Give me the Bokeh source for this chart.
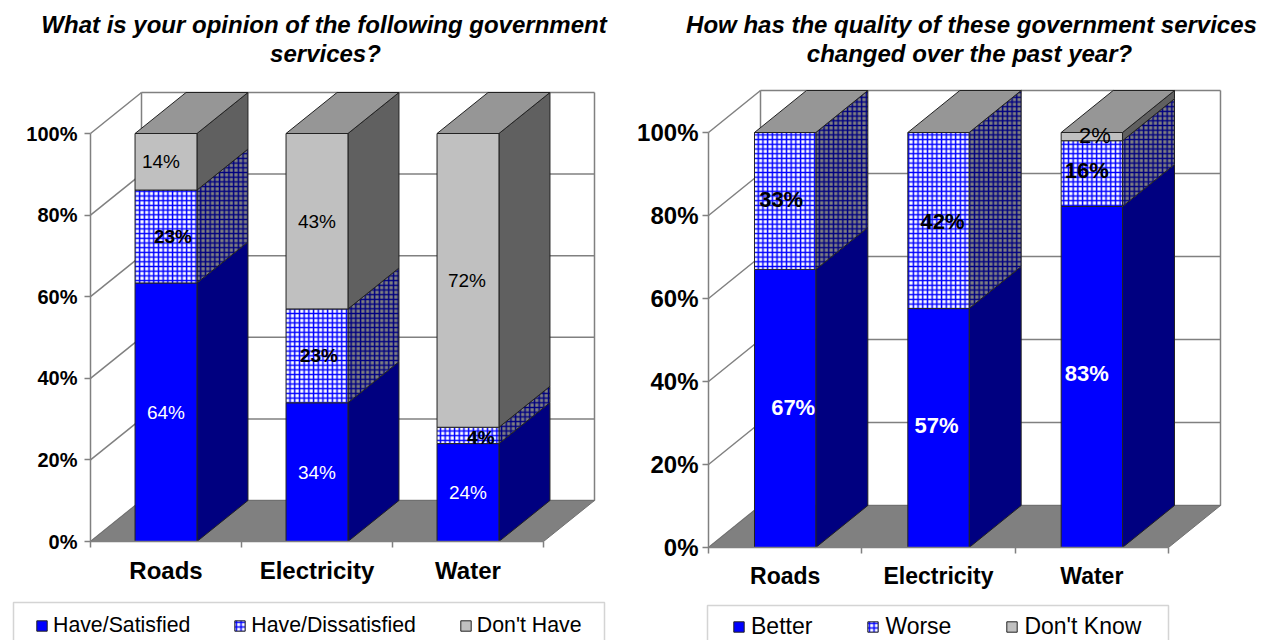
from bokeh.plotting import figure
from bokeh.layouts import row
from bokeh.embed import file_html
from bokeh.resources import INLINE
from bokeh.core.properties import value
from bokeh.models import (Range1d, FixedTicker, PrintfTickFormatter,
                          Label, Legend, LegendItem, BoxAnnotation)

CATEGORIES = ["Roads", "Electricity", "Water"]
TICKS = [0, 20, 40, 60, 80, 100]

L_TITLE = ["What is your opinion of the following government", "services?"]
L_SERIES = ["Have/Satisfied", "Have/Dissatisfied", "Don't Have"]
L_SATISFIED = [64, 34, 24]
L_DISSATISFIED = [23, 23, 4]
L_DONT_HAVE = [14, 43, 72]

R_TITLE = ["How has the quality of these government services", "changed over the past year?"]
R_SERIES = ["Better", "Worse", "Don't Know"]
R_BETTER = [67, 57, 83]
R_WORSE = [33, 42, 16]
R_DONT_KNOW = [0, 0, 2]

FONT = "Liberation Sans"
FRONT = ["#0000FF", "#FFFFFF", "#C0C0C0"]
SIDE = ["#000080", "#808080", "#606060"]
HATCH = [None, "cross", None]
HATCH_FRONT = "#0000FF"
HATCH_SIDE = "#000080"
EDGE = "#222222"
WALL = "#808080"
PAGE_H = 640


def chart(title, series, stacks, cfg):
    px_x, px_y = cfg["px_x"], cfg["px_y"]
    ax_l, ax_b = cfg["axis_left"], cfg["axis_bottom"]
    dx, dy = cfg["depth_x"] / px_x, cfg["depth_y"] / px_y
    to_x = lambda s: (s - ax_l) / px_x
    to_y = lambda s: (ax_b - s) / px_y
    p = figure(width=cfg["width"], height=PAGE_H, output_backend="svg", toolbar_location=None,
               x_range=Range1d(to_x(cfg["fig_left"]), to_x(cfg["fig_left"] + cfg["width"])),
               y_range=Range1d(to_y(PAGE_H), to_y(0)),
               min_border=0, outline_line_color=None)
    p.grid.visible = False

    # y axis
    ya = p.yaxis[0]
    ya.fixed_location = 0
    ya.ticker = FixedTicker(ticks=TICKS)
    ya.formatter = PrintfTickFormatter(format="%d%%")
    ya.bounds = (0, 100)
    ya.major_tick_in, ya.major_tick_out = 0, 6
    ya.minor_tick_in, ya.minor_tick_out = 0, 0
    ya.axis_line_color = ya.major_tick_line_color = WALL
    ya.axis_line_width = ya.major_tick_line_width = 1.5
    ya.major_label_text_font = FONT
    ya.major_label_text_font_size = cfg["tick_size"]
    ya.major_label_text_font_style = "bold"
    ya.major_label_text_color = "black"
    ya.major_label_standoff = cfg["tick_standoff"]

    # x axis
    n = len(CATEGORIES)
    xa = p.xaxis[0]
    xa.fixed_location = 0
    centres = [i + 0.5 for i in range(n)]
    xa.ticker = FixedTicker(ticks=centres, minor_ticks=list(range(n + 1)))
    xa.major_label_overrides = dict(zip(centres, CATEGORIES))
    xa.bounds = (0, n)
    xa.major_tick_in, xa.major_tick_out = 0, 0
    xa.minor_tick_in, xa.minor_tick_out = 0, 6
    xa.axis_line_color = xa.minor_tick_line_color = WALL
    xa.axis_line_width = xa.minor_tick_line_width = 1.5
    xa.major_label_text_font = FONT
    xa.major_label_text_font_size = cfg["cat_size"]
    xa.major_label_text_font_style = "bold"
    xa.major_label_text_color = "black"
    xa.major_label_standoff = cfg["cat_standoff"]

    # walls and floor
    wall_x, wall_y = [], []
    for t in TICKS:
        wall_x.append([0, dx])
        wall_y.append([t, t + dy])
        wall_x.append([dx, n + dx])
        wall_y.append([t + dy, t + dy])
    for e in (dx, n + dx):
        wall_x.append([e, e])
        wall_y.append([dy, 100 + dy])
    p.multi_line(wall_x, wall_y, line_color=WALL, line_width=1.5)
    p.patch([0, dx, n + dx, n], [0, dy, dy, 0], fill_color="#808080", line_color="#707070", line_width=1)

    # bars
    totals = [sum(s[i] for s in stacks) for i in range(n)]
    half = cfg["bar"] / 2
    legend_r = [None] * len(stacks)
    texts = []
    for i in range(n):
        l, r = centres[i] - half, centres[i] + half
        base = 0.0
        for k, s in enumerate(stacks):
            if s[i] == 0:
                continue
            top = base + 100.0 * s[i] / totals[i]
            kw = dict(hatch_pattern="cross", hatch_scale=4.7, hatch_weight=1.5) if HATCH[k] else {}
            p.patch([r, r + dx, r + dx, r], [base, base + dy, top + dy, top], fill_color=SIDE[k],
                    line_color=EDGE, line_width=1, **(dict(kw, hatch_color=HATCH_SIDE) if kw else {}))
            q = p.quad(left=[l], right=[r], bottom=[base], top=[top], fill_color=FRONT[k],
                       line_color=EDGE, line_width=1, **(dict(kw, hatch_color=HATCH_FRONT) if kw else {}))
            legend_r[k] = q
            texts.append((centres[i], (base + top) / 2, s[i], k, cfg["nudges"][k][i]))
            base = top
        p.patch([l, l + dx, r + dx, r], [100, 100 + dy, 100 + dy, 100], fill_color="#969696",
                line_color=EDGE, line_width=1)

    for cx, cy, v, k, nudge in texts:
        p.text([cx], [cy], text=[f"{v}%"], text_color="white" if k == 0 else "black",
               text_font=value(FONT), text_font_size=cfg["val_size"], text_align="center",
               text_baseline="middle", x_offset=nudge[0], y_offset=nudge[1],
               text_font_style="bold" if (k == 1 or (k == 0 and cfg["bold_white"])) else "normal")

    # titles
    for line, cx, cy in zip(title, cfg["title_x"], cfg["title_y"]):
        p.add_layout(Label(x=to_x(cx), y=to_y(cy), text=line, text_font=FONT, text_font_size=cfg["title_size"],
                           text_font_style="bold italic", text_align="center", text_baseline="middle",
                           text_color="black"))

    # legend
    b = cfg["legend_box"]
    p.add_layout(BoxAnnotation(left=to_x(b[0]), right=to_x(b[1]), top=to_y(b[2]), bottom=to_y(b[3]),
                               fill_alpha=0, line_color="#707070", line_width=1.5))
    items = [LegendItem(label=value(t), renderers=[r]) for t, r in zip(series, legend_r)]
    leg = Legend(items=items, orientation="horizontal",
                 location=(cfg["leg_x"] - cfg["fig_left"], PAGE_H - cfg["leg_y"]),
                 border_line_color=None, background_fill_alpha=0, padding=0, margin=0,
                 spacing=cfg["leg_spacing"], label_standoff=cfg["leg_standoff"], glyph_width=13, glyph_height=13,
                 label_text_font=FONT, label_text_font_size=cfg["leg_size"], label_text_color="black")
    p.add_layout(leg, "center")
    return p


left = chart(L_TITLE, L_SERIES, [L_SATISFIED, L_DISSATISFIED, L_DONT_HAVE], dict(
    fig_left=0, width=628, axis_left=90, axis_bottom=541,
    px_x=151, px_y=4.08, depth_x=51, depth_y=41, bar=0.41,
    tick_size="20px", tick_standoff=7, cat_size="24px", cat_standoff=9,
    val_size="19px", bold_white=False, title_size="24px",
    title_x=[323.5, 325], title_y=[24, 53],
    nudges=[[(0, 0)] * 3, [(7, 0), (2, 0), (13, 2)], [(-5, 0), (0, 0), (-1, 0)]],
    legend_box=(13, 604, 602, 660), leg_x=35, leg_y=638,
    leg_spacing=43, leg_standoff=5, leg_size="21.3px"))

right = chart(R_TITLE, R_SERIES, [R_BETTER, R_WORSE, R_DONT_KNOW], dict(
    fig_left=628, width=643, axis_left=708, axis_bottom=547,
    px_x=153.33, px_y=4.15, depth_x=52, depth_y=42, bar=0.40,
    tick_size="24px", tick_standoff=4, cat_size="23px", cat_standoff=9,
    val_size="22px", bold_white=True, title_size="24px",
    title_x=[971, 969], title_y=[24, 53],
    nudges=[[(8, -1), (-2, -3), (-5, -3)], [(-4, -1), (4, 1), (-5, -3)], [(0, 0), (0, 0), (3, -1)]],
    legend_box=(707, 1168, 605, 660), leg_x=732, leg_y=640,
    leg_spacing=54, leg_standoff=6, leg_size="23px"))

page = row(left, right)
open("out.html", "w").write(file_html(page, INLINE))
